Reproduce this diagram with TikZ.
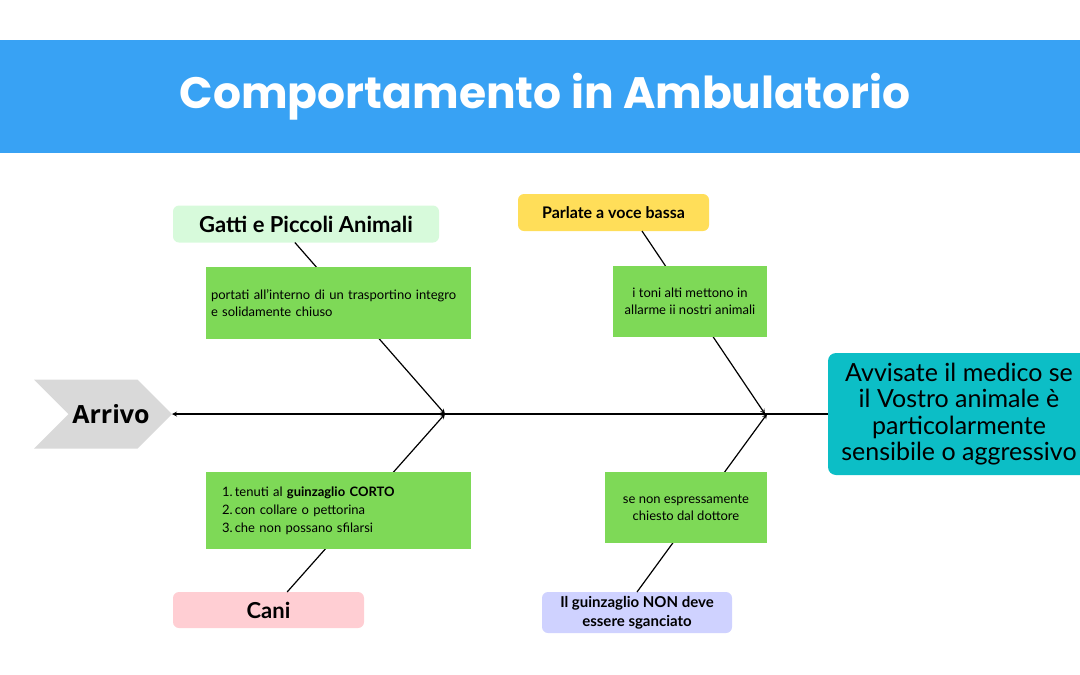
\documentclass[tikz,border=0pt]{standalone}
\usepackage{fontspec}
\setmainfont{Lato}
\newfontfamily\titlefont{Poppins}
\newfontfamily\arrfont{Open Sans}
\usetikzlibrary{shapes.symbols, arrows}
\definecolor{bannerblue}{RGB}{56,162,244}
\definecolor{chevgray}{RGB}{217,217,217}
\definecolor{mint}{RGB}{215,250,219}
\definecolor{leaf}{RGB}{126,217,87}
\definecolor{rose}{RGB}{255,206,211}
\definecolor{sun}{RGB}{255,222,89}
\definecolor{lilac}{RGB}{207,210,255}
\definecolor{teal}{RGB}{12,190,198}
\tikzstyle{arrow} = [line width=1.2pt,->,>=stealth]
\tikzstyle{note} = [rectangle, fill=leaf, inner sep=5pt, outer sep=0pt, minimum height=72pt, font=\fontsize{13}{17}\selectfont]
\tikzstyle{tag} = [rectangle, rounded corners=6pt, inner sep=0pt, outer sep=0pt, text centered, font=\bfseries]

\begin{document}
\begin{tikzpicture}[x=1pt, y=-1pt]
    \useasboundingbox (0,0) rectangle (1080,675);
    \node (banner) [rectangle, fill=bannerblue, minimum width=1080pt, minimum height=113pt] at (540,96.5) {};
    \node (title) [text=white, font=\titlefont\bfseries\fontsize{44}{50}\selectfont] at (545,96.5) {Comportamento in Ambulatorio};

    \node (arr) [signal, signal to=east, signal from=west, signal pointer angle=90, fill=chevgray, minimum width=138pt, minimum height=69pt, inner sep=0pt, outer sep=0pt] at (103,414) {};
    \node (arrtext) [font=\arrfont\bfseries\fontsize{25}{28}\selectfont] at (111,414) {Arrivo};
    \node (adv) [rectangle, rounded corners=8pt, fill=teal, minimum width=262pt, minimum height=122pt, outer sep=0pt, align=center, font=\fontsize{25}{26.5}\selectfont] at (959,414) {Avvisate il medico se\\il Vostro animale è\\particolarmente\\sensibile o aggressivo};

    % labels of the four bones
    \node (cat) [tag, fill=mint, minimum width=266pt, minimum height=37pt, font=\bfseries\fontsize{22}{24}\selectfont] at (306,224) {Gatti e Piccoli Animali};
    \node (dog) [tag, fill=rose, minimum width=191pt, minimum height=36pt, font=\bfseries\fontsize{22}{24}\selectfont] at (268.5,610) {Cani};
    \node (voice) [tag, fill=sun, minimum width=191pt, minimum height=37pt, font=\bfseries\fontsize{16}{18}\selectfont] at (613.5,212.5) {Parlate a voce bassa};
    \node (leash) [tag, fill=lilac, minimum width=190pt, minimum height=41pt, align=center, font=\bfseries\fontsize{15}{19}\selectfont] at (637,612.5) {Il guinzaglio NON deve\\essere sganciato};

    \coordinate (j1) at (445,414);
    \coordinate (j2) at (445,414);
    \coordinate (j3) at (765,414);
    \coordinate (j4) at (767,414);

    \draw [arrow] (adv.west) -- (arr.east);
    \draw [arrow] (cat.239) -- (j1);
    \draw [arrow] (dog.44) -- (j2);
    \draw [arrow] (voice.327) -- (j3);
    \draw [arrow] (leash.north) -- (j4);

    \node (catnote) [note, minimum width=265pt, text width=255pt, align=left] at (338.5,303) {portati all’interno di un trasportino integro\\e solidamente chiuso};
    \node (dognote) [note, minimum width=265pt, minimum height=77pt, text width=249pt, inner xsep=8pt, align=left, font=\fontsize{13}{18}\selectfont] at (338.5,510.5) {\hspace*{8pt}\begin{tabular}{@{}r@{\,}l@{}}1.&tenuti al \textbf{guinzaglio CORTO}\\2.&con collare o pettorina\\3.&che non possano sfilarsi\end{tabular}};
    \node (voicenote) [note, minimum width=154pt, minimum height=71pt, align=center] at (690,301.5) {i toni alti mettono in\\allarme ii nostri animali};
    \node (leashnote) [note, minimum width=162pt, minimum height=71pt, align=center] at (686,507.5) {se non espressamente\\chiesto dal dottore};
\end{tikzpicture}
\end{document}
